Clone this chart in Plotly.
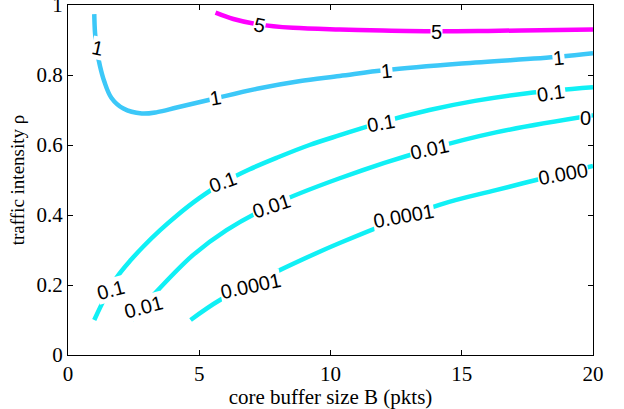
import plotly.graph_objects as go

# ---- data ----
levels = ["5", "1", "0.1", "0.01", "0.0001"]

lvl5_x = [5.62, 6.3, 7.3, 8.57, 10.35, 12.0, 14.0, 16.0, 18.0, 20.0]
lvl5_y = [0.978, 0.96, 0.944, 0.935, 0.930, 0.927, 0.925, 0.926, 0.928, 0.930]

lvl1_x = [1.0, 1.03, 1.1, 1.22, 1.38, 1.65, 2.11, 2.81, 3.4, 4.14, 5.6, 7.3, 8.8, 10.35, 12.1, 15.0, 18.7, 20.0]
lvl1_y = [0.974, 0.92, 0.872, 0.825, 0.782, 0.735, 0.704, 0.690, 0.694, 0.707, 0.733, 0.762, 0.782, 0.797, 0.814, 0.833, 0.852, 0.862]

lvl01_x = [1.0, 1.4, 1.86, 2.4, 2.87, 3.5, 4.14, 5.0, 5.9, 6.9, 8.0, 9.2, 10.35, 11.9, 13.77, 15.5, 17.5, 20.0]
lvl01_y = [0.10, 0.162, 0.222, 0.272, 0.310, 0.356, 0.398, 0.448, 0.492, 0.530, 0.565, 0.600, 0.628, 0.664, 0.700, 0.726, 0.748, 0.765]

lvl001_x = [2.43, 3.25, 4.77, 6.04, 7.75, 10.35, 13.77, 16.3, 20.0]
lvl001_y = [0.10, 0.171, 0.286, 0.357, 0.427, 0.505, 0.588, 0.636, 0.685]

lvl00001_x = [4.67, 5.79, 7.69, 10.35, 14.15, 16.3, 18.1, 20.0]
lvl00001_y = [0.10, 0.157, 0.229, 0.320, 0.429, 0.471, 0.505, 0.540]

# contour labels: text, x, y, angle
label_text = ["5", "5", "1", "1", "1", "1", "0.1", "0.1", "0.1", "0.1", "0.01", "0.01", "0.01", "0", "0.0001", "0.0001", "0.000"]
label_x = [7.3, 14.03, 1.12, 5.62, 12.13, 18.7, 1.62, 5.9, 11.94, 18.4, 2.87, 7.75, 13.77, 19.72, 6.95, 12.78, 18.85]
label_y = [0.943, 0.922, 0.876, 0.733, 0.812, 0.85, 0.185, 0.494, 0.664, 0.748, 0.138, 0.426, 0.59, 0.676, 0.198, 0.398, 0.518]
label_angle = [12, 0, 12, -10, -6, -6, -15, -20, -10, -8, -15, -18, -12, 0, -12, -10, -10]

x_ticks = [0, 5, 10, 15, 20]
y_ticks = [0, 0.2, 0.4, 0.6, 0.8, 1]

# ---- styles ----
magenta = "#ff00ff"
skyblue = "#3cc8f8"
cyan = "#10f0f5"

fig = go.Figure()
series = [
    (lvl5_x, lvl5_y, magenta),
    (lvl1_x, lvl1_y, skyblue),
    (lvl01_x, lvl01_y, cyan),
    (lvl001_x, lvl001_y, cyan),
    (lvl00001_x, lvl00001_y, cyan),
]
for (xs, ys, col), name in zip(series, levels):
    fig.add_trace(go.Scatter(x=xs, y=ys, mode="lines", name=name,
                             line=dict(color=col, width=4.5, shape="spline", smoothing=1.0),
                             showlegend=False, hoverinfo="skip"))

for t, x, y, a in zip(label_text, label_x, label_y, label_angle):
    fig.add_annotation(x=x, y=y, text=t, textangle=a, showarrow=False,
                       xref="x", yref="y",
                       font=dict(family="Liberation Sans, Arial, sans-serif", size=20, color="black"),
                       bgcolor="white", borderpad=0)

tick_font = dict(family="Liberation Serif, Times New Roman, serif", size=21, color="black")
xtitle_font = dict(family="Liberation Serif, Times New Roman, serif", size=21, color="black")
ytitle_font = dict(family="Liberation Serif, Times New Roman, serif", size=19, color="black")
fig.update_xaxes(range=[0, 20], tickvals=x_ticks, ticks="inside", ticklen=5, tickcolor="black",
                 showline=True, linecolor="black", linewidth=1, mirror="ticks",
                 showgrid=False, zeroline=False, tickfont=tick_font, ticklabeloverflow="allow",
                 automargin=False,
                 title=dict(text="core buffer size B (pkts)", font=xtitle_font, standoff=0))
fig.update_yaxes(range=[0, 1], tickvals=y_ticks, ticks="inside", ticklen=5, tickcolor="black",
                 showline=True, linecolor="black", linewidth=1, mirror="ticks",
                 showgrid=False, zeroline=False, tickfont=tick_font, ticklabeloverflow="allow",
                 automargin=False,
                 title=dict(text="traffic intensity ρ", font=ytitle_font, standoff=6))
fig.update_layout(width=624, height=409, paper_bgcolor="white", plot_bgcolor="white",
                  margin=dict(l=68, r=31, t=5, b=54))
fig.write_html("out.html")
